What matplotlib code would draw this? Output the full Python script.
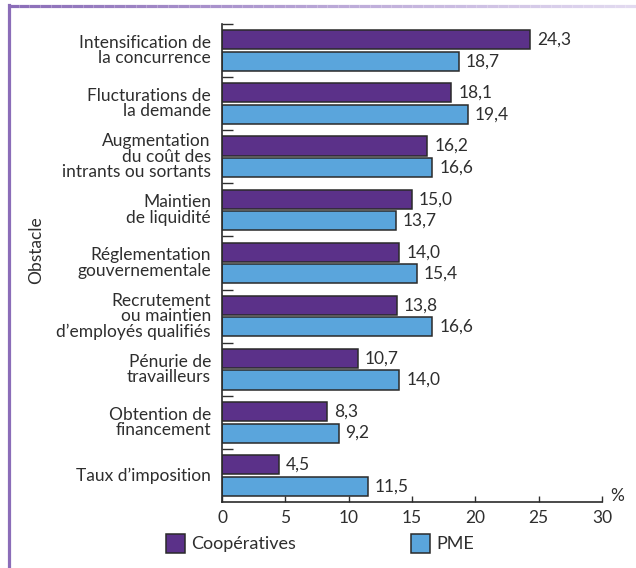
import matplotlib.pyplot as plt
import numpy as np
from matplotlib.collections import LineCollection
from matplotlib.colors import LinearSegmentedColormap
from matplotlib.patches import Rectangle

plt.rcParams.update(
    {
        "font.family": "Lato",
        "font.size": 12,
        "text.color": "#2e2e2e",
        "xtick.color": "#2e2e2e",
        "ytick.color": "#2e2e2e",
    }
)

obstacles = [
    "Intensification de\nla concurrence",
    "Flucturations de\nla demande",
    "Augmentation\ndu coût des\nintrants ou sortants",
    "Maintien\nde liquidité",
    "Réglementation\ngouvernementale",
    "Recrutement\nou maintien\nd’employés qualifiés",
    "Pénurie de\ntravailleurs",
    "Obtention de\nfinancement",
    "Taux d’imposition",
]
cooperatives = [24.3, 18.1, 16.2, 15.0, 14.0, 13.8, 10.7, 8.3, 4.5]
pme = [18.7, 19.4, 16.6, 13.7, 15.4, 16.6, 14.0, 9.2, 11.5]
series_names = ["Coopératives", "PME"]
xticks = [0, 5, 10, 15, 20, 25, 30]

purple = "#5b3189"
blue = "#5aa5dc"
edge = "#2a2a2a"

fig = plt.figure(figsize=(6.36, 5.68), dpi=100)
ax = fig.add_axes([222 / 636, 1 - 502 / 568, 380 / 636, 478 / 568])

n = len(obstacles)
centers = np.arange(n) + 0.5
h = 0.36
gap = 0.045
y_coop = centers - gap / 2 - h / 2
y_pme = centers + gap / 2 + h / 2

ax.barh(y_coop, cooperatives, height=h, color=purple, edgecolor=edge, linewidth=1.1)
ax.barh(y_pme, pme, height=h, color=blue, edgecolor=edge, linewidth=1.1)


def fmt(v):
    return f"{v:.1f}".replace(".", ",")


for y, v in zip(y_coop, cooperatives):
    ax.annotate(fmt(v), (v, y), xytext=(5, 0), textcoords="offset points",
                va="center", ha="left", fontsize=12.5)
for y, v in zip(y_pme, pme):
    ax.annotate(fmt(v), (v, y), xytext=(5, 0), textcoords="offset points",
                va="center", ha="left", fontsize=12.5)

ax.set_xlim(0, 30)
ax.set_ylim(n, 0)
ax.set_xticks(xticks)
ax.set_xticklabels([str(t) for t in xticks], fontsize=12.5)
ax.tick_params(axis="x", direction="in", length=4, width=1, pad=6)

# group separators as inward ticks on the left spine
ax.set_yticks(np.arange(n))
ax.set_yticklabels([])
ax.tick_params(axis="y", direction="in", length=8, width=1)
for c, label in zip(centers, obstacles):
    ax.annotate(label, (0, c), xycoords=("axes fraction", "data"),
                xytext=(-8, 0), textcoords="offset points",
                ha="right", va="center", multialignment="right",
                linespacing=0.95, fontsize=12.5)

for s in ["top", "right"]:
    ax.spines[s].set_visible(False)
for s in ["left", "bottom"]:
    ax.spines[s].set_linewidth(1.2)
    ax.spines[s].set_color(edge)

ax.annotate("%", (1, 0), xycoords="axes fraction", xytext=(6, 4),
            textcoords="offset points", ha="left", va="center", fontsize=12.5)

fig.text(36 / 636, 1 - 250 / 568, "Obstacle", rotation=90, ha="center",
         va="center", fontsize=12.5)

# legend drawn by hand
for x0, color, name in [(166, purple, series_names[0]), (411, blue, series_names[1])]:
    fig.add_artist(Rectangle((x0 / 636, 1 - 553 / 568), 19 / 636, 19 / 568,
                             transform=fig.transFigure, facecolor=color,
                             edgecolor=edge, linewidth=1.1))
    fig.text((x0 + 25) / 636, 1 - 544 / 568, name, ha="left", va="center",
             fontsize=13)

# frame: solid left rule, top rule fading to lavender
fig.add_artist(plt.Line2D([9 / 636, 9 / 636], [0, 1 - 5 / 568],
                          transform=fig.transFigure, color="#8b6db8", lw=2.3))
xs = np.linspace(8 / 636, 1, 60)
top = 1 - 6 / 568
segs = [[(xs[i], top), (xs[i + 1], top)] for i in range(len(xs) - 1)]
cmap = LinearSegmentedColormap.from_list("frame", ["#8b6db8", "#b9a6d6", "#e2daf0"])
lc = LineCollection(segs, colors=cmap(np.linspace(0, 1, len(segs))), lw=2.3,
                    transform=fig.transFigure)
fig.add_artist(lc)

fig.savefig("out.png", dpi=100)
